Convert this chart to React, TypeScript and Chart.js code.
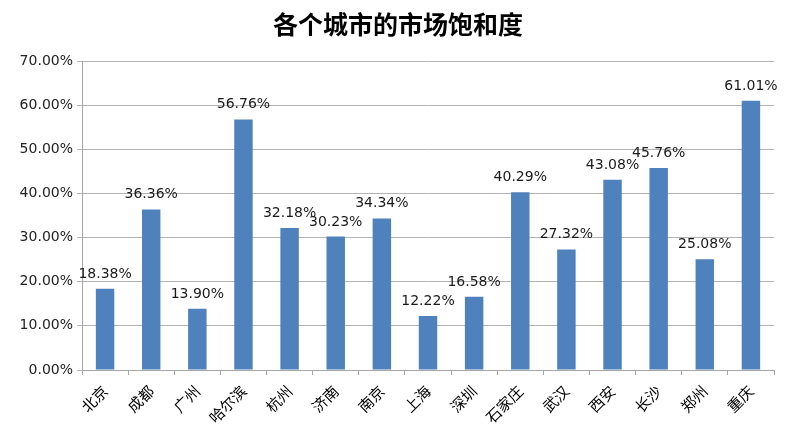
import React, { useEffect, useRef } from "react";
import { Chart, registerables } from "chart.js";

Chart.register(...registerables);

const titleText = "各个城市的市场饱和度";
const cities = ["北京", "成都", "广州", "哈尔滨", "杭州", "济南", "南京", "上海", "深圳", "石家庄", "武汉", "西安", "长沙", "郑州", "重庆"];
const saturation = [18.38, 36.36, 13.90, 56.76, 32.18, 30.23, 34.34, 12.22, 16.58, 40.29, 27.32, 43.08, 45.76, 25.08, 61.01];
const yMin = 0;
const yMax = 70;
const yStep = 10;

const labelPlugin = {
  id: "barLabels",
  afterDatasetsDraw(chart: any) {
    const ctx = chart.ctx;
    const meta = chart.getDatasetMeta(0);
    ctx.save();
    ctx.font = "14px 'DejaVu Sans'";
    ctx.fillStyle = "#1a1a1a";
    ctx.textAlign = "center";
    ctx.textBaseline = "alphabetic";
    meta.data.forEach((bar: any, i: number) => {
      ctx.fillText(saturation[i].toFixed(2) + "%", bar.x, bar.y - 11);
    });
    ctx.restore();
  },
};

const titlePlugin = {
  id: "customTitle",
  afterDraw(chart: any) {
    const ctx = chart.ctx;
    ctx.save();
    ctx.font = "bold 25px 'Noto Sans CJK SC'";
    ctx.fillStyle = "#000";
    ctx.textAlign = "center";
    ctx.textBaseline = "middle";
    ctx.fillText(titleText, 398, 24);
    ctx.restore();
  },
};

export default function App() {
  const ref = useRef<HTMLCanvasElement | null>(null);
  useEffect(() => {
    if (!ref.current) return;
    const chart = new Chart(ref.current, {
      type: "bar",
      data: {
        labels: cities,
        datasets: [
          {
            data: saturation,
            backgroundColor: "#4f81bd",
            borderWidth: 0,
            barPercentage: 0.4,
            categoryPercentage: 1,
          },
        ],
      },
      options: {
        animation: false,
        responsive: false,
        maintainAspectRatio: false,
        layout: { padding: { top: 61, right: 26, left: 0, bottom: 0 } },
        plugins: {
          legend: { display: false },
          title: { display: false },
          tooltip: { enabled: false },
        },
        scales: {
          x: {
            afterFit: (s: any) => {
              s.height = 74;
            },
            grid: {
              display: true,
              drawOnChartArea: false,
              drawTicks: true,
              tickLength: 5,
              color: "#a6a6a6",
              offset: true,
            },
            border: { display: true, color: "#a6a6a6" },
            ticks: {
              minRotation: 45,
              maxRotation: 45,
              autoSkip: false,
              padding: 7,
              color: "#000",
              font: { family: "'Noto Sans CJK SC'", size: 15 },
            },
          },
          y: {
            min: yMin,
            max: yMax,
            afterFit: (s: any) => {
              s.width = 82;
            },
            grid: {
              color: "#b3b3b3",
              tickLength: 5,
            },
            border: { display: true, color: "#a6a6a6" },
            ticks: {
              stepSize: yStep,
              padding: 4,
              color: "#222",
              font: { family: "'DejaVu Sans'", size: 14 },
              callback: (v: any) => Number(v).toFixed(2) + "%",
            },
          },
        },
      },
      plugins: [labelPlugin, titlePlugin],
    });
    return () => chart.destroy();
  }, []);
  return (
    <div style={{ position: "absolute", left: 0, top: 0, width: 800, height: 444, background: "#fff" }}>
      <canvas ref={ref} width={800} height={444} style={{ width: 800, height: 444 }} />
    </div>
  );
}
